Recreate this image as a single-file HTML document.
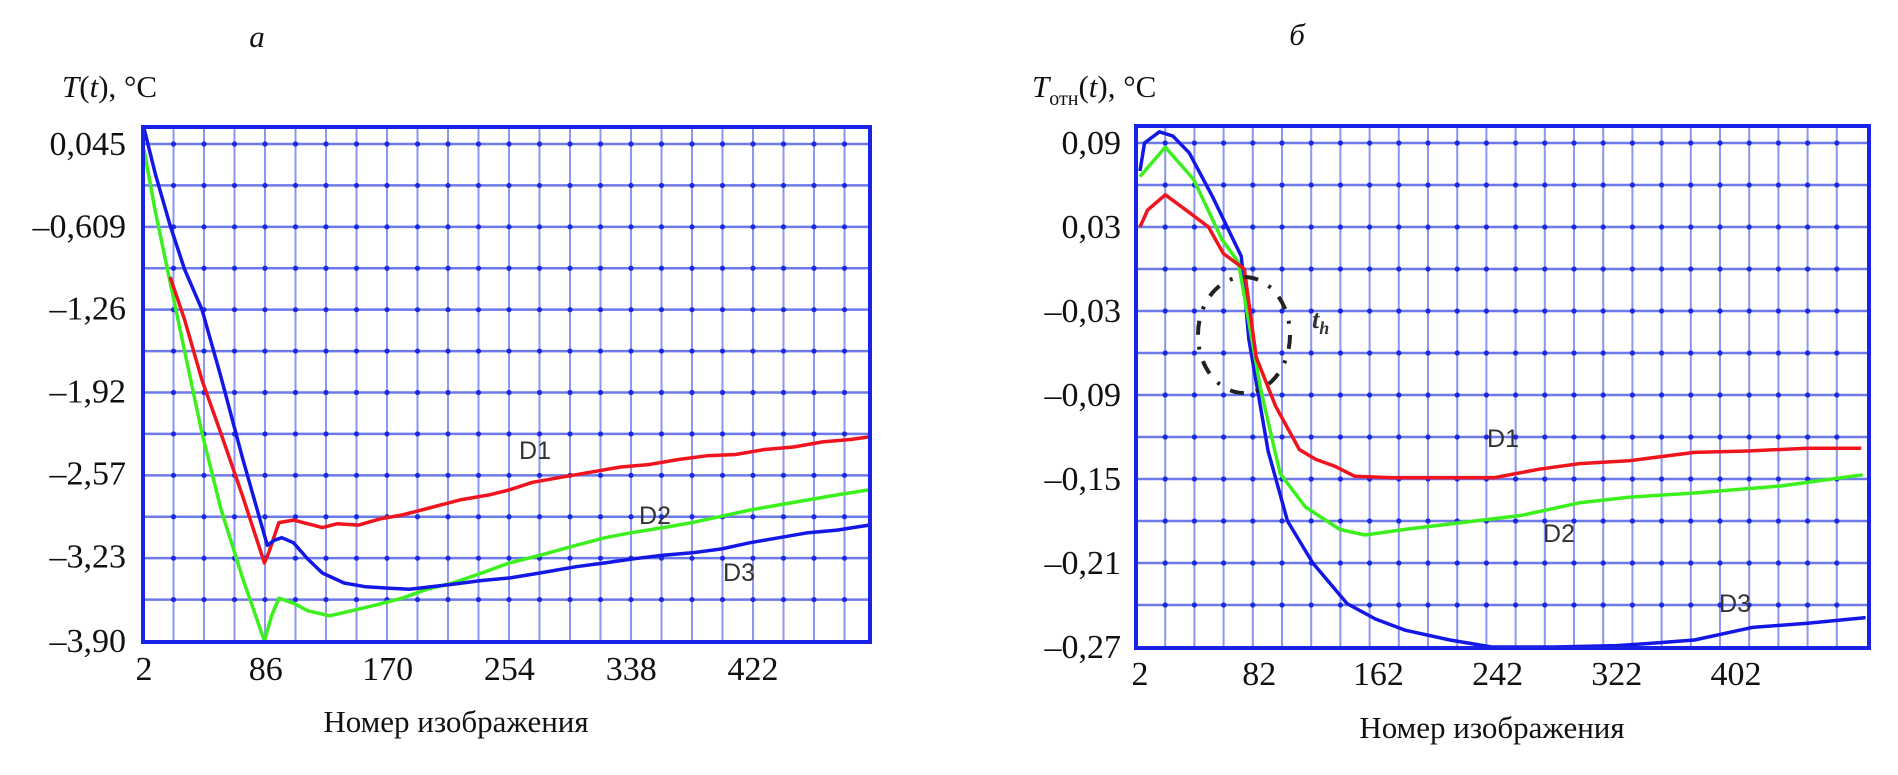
<!DOCTYPE html>
<html><head><meta charset="utf-8">
<style>
html,body{margin:0;padding:0;background:#fff;}
svg{display:block;}
.tick{font-family:"Liberation Serif",serif;font-size:34px;fill:#111;}
.ttl{font-family:"Liberation Serif",serif;font-size:31px;fill:#111;}
.dl{font-family:"Liberation Sans",sans-serif;font-size:25px;fill:#333;}
</style></head>
<body>
<svg id="fig" width="1898" height="775" viewBox="0 0 1898 775" xmlns="http://www.w3.org/2000/svg">
  <text x="257" y="47" class="ttl" font-style="italic" text-anchor="middle">а</text>
  <text x="1297" y="45" class="ttl" font-style="italic" text-anchor="middle">б</text>
  <text x="62" y="97" class="ttl"><tspan font-style="italic">T</tspan>(<tspan font-style="italic">t</tspan>), °C</text>
  <text x="1032" y="97" class="ttl"><tspan font-style="italic">T</tspan><tspan font-size="20" dy="8">отн</tspan><tspan dy="-8">(</tspan><tspan font-style="italic">t</tspan>), °C</text>
  <text x="456" y="732" class="ttl" text-anchor="middle">Номер изображения</text>
  <text x="1492" y="738" class="ttl" text-anchor="middle">Номер изображения</text>
  <g id="left"></g>
  <g id="right"></g>
  <ellipse cx="1244" cy="335" rx="46" ry="58" fill="none" stroke="#222" stroke-width="4" stroke-dasharray="14 12 3 12"/>
  <text x="1312" y="328" font-family="Liberation Serif,serif" font-size="26" font-style="italic" font-weight="bold" fill="#333">t<tspan font-size="18" dy="6">h</tspan></text>
</svg>
<script>
// ---- Left chart data ----
const leftYTicks = [0.045, -0.609, -1.26, -1.92, -2.57, -3.23, -3.90];
const leftYTickLabels = ["0,045", "–0,609", "–1,26", "–1,92", "–2,57", "–3,23", "–3,90"];
const leftXTicks = [2, 86, 170, 254, 338, 422];
const leftD1x = [20, 30, 42, 55, 70, 85, 88, 95, 105, 115, 125, 135, 150, 165, 180, 200, 220, 240, 254, 270, 290, 310, 330, 350, 370, 390, 410, 430, 450, 470, 490, 502];
const leftD1y = [-1.01, -1.35, -1.83, -2.25, -2.75, -3.28, -3.2, -2.96, -2.94, -2.97, -3.0, -2.97, -2.98, -2.93, -2.9, -2.84, -2.78, -2.74, -2.70, -2.64, -2.6, -2.56, -2.52, -2.5, -2.46, -2.43, -2.42, -2.38, -2.36, -2.32, -2.3, -2.28];
const leftD2x = [2, 10, 20, 30, 42, 55, 70, 85, 90, 95, 105, 115, 130, 145, 160, 180, 197, 215, 235, 254, 275, 300, 320, 338, 360, 380, 400, 420, 440, 460, 480, 502];
const leftD2y = [0.0, -0.5, -1.05, -1.6, -2.25, -2.85, -3.4, -3.9, -3.7, -3.56, -3.6, -3.66, -3.7, -3.66, -3.62, -3.56, -3.49, -3.44, -3.36, -3.28, -3.22, -3.14, -3.08, -3.04, -3.0, -2.96, -2.91, -2.86, -2.82, -2.78, -2.74, -2.70];
const leftD3x = [2, 10, 20, 30, 42, 55, 70, 87, 92, 97, 105, 115, 125, 140, 155, 170, 185, 200, 215, 235, 254, 275, 300, 320, 338, 360, 380, 400, 420, 440, 460, 480, 502];
const leftD3y = [0.17, -0.2, -0.6, -0.95, -1.27, -1.8, -2.45, -3.14, -3.1, -3.08, -3.12, -3.25, -3.36, -3.44, -3.47, -3.48, -3.49, -3.47, -3.45, -3.42, -3.40, -3.36, -3.31, -3.28, -3.25, -3.22, -3.2, -3.17, -3.12, -3.08, -3.04, -3.02, -2.98];
// ---- Right chart data ----
const rightYTicks = [0.09, 0.03, -0.03, -0.09, -0.15, -0.21, -0.27];
const rightYTickLabels = ["0,09", "0,03", "–0,03", "–0,09", "–0,15", "–0,21", "–0,27"];
const rightXTicks = [2, 82, 162, 242, 322, 402];
const rightD1x = [2, 7, 19, 33, 48, 58, 72, 80, 93, 109, 120, 133, 146, 170, 200, 240, 270, 297, 330, 374, 410, 450, 486];
const rightD1y = [0.03, 0.042, 0.053, 0.042, 0.03, 0.011, 0.0, -0.063, -0.098, -0.129, -0.136, -0.141, -0.148, -0.149, -0.149, -0.149, -0.143, -0.139, -0.137, -0.131, -0.13, -0.128, -0.128];
const rightD2x = [2, 19, 38, 57, 68, 83, 96, 113, 136, 153, 180, 219, 258, 297, 330, 374, 432, 487];
const rightD2y = [0.066, 0.087, 0.064, 0.021, 0.005, -0.086, -0.146, -0.17, -0.186, -0.19, -0.186, -0.181, -0.176, -0.167, -0.163, -0.16, -0.155, -0.147];
const rightD3x = [2, 5, 15, 24, 35, 51, 70, 75, 88, 101, 118, 141, 160, 180, 210, 238, 280, 322, 350, 374, 413, 450, 489];
const rightD3y = [0.07, 0.09, 0.098, 0.095, 0.083, 0.051, 0.009, -0.05, -0.13, -0.18, -0.21, -0.239, -0.25, -0.258, -0.265, -0.27, -0.27, -0.269, -0.267, -0.265, -0.256, -0.253, -0.249];

const NS = "http://www.w3.org/2000/svg";
function mk(parent, tag, attrs) {
  const e = document.createElementNS(NS, tag);
  for (const k in attrs) e.setAttribute(k, attrs[k]);
  parent.appendChild(e);
  return e;
}
function chart(g, cfg) {
  const {L, R, T, B, y0, yv0, yv1, yB, x0, xv0, xpu, vSpacing} = cfg;
  const sx = v => x0 + (v - xv0) * xpu;
  const sy = v => y0 + (yv0 - v) / (yv0 - yv1) * (yB - y0);
  const bg = mk(g, "rect", {x: L, y: T, width: R - L, height: B - T, fill: "#fff"});
  
  
  for (let x = L + vSpacing; x < R - 3; x += vSpacing) {
    const l = mk(g, "line", {x1: x, y1: T, x2: x, y2: B, stroke: "#8e96f2", "stroke-width": 2});
    
    
  }
  const step = (yB - y0) / (cfg.yTicks.length - 1) / 2;
  const hy = [];
  for (let y = y0; y < B - 2; y += step) hy.push(y);
  hy.forEach(y => {
    const l = mk(g, "line", {x1: L, y1: y, x2: R, y2: y, stroke: "#4a58e8", "stroke-width": 2.5, opacity: 0.8});
    
    
    for (let x = L + vSpacing; x < R - 3; x += vSpacing) {
      const d = mk(g, "circle", {cx: x, cy: y, r: 2.6, fill: "#1a2ae0"});
      
      
    }
  });
  cfg.series.forEach(s => {
    let d = "";
    s.x.forEach((v, i) => { d += (i ? "L" : "M") + sx(v).toFixed(1) + "," + sy(s.y[i]).toFixed(1); });
    const p = mk(g, "path", {d: d, fill: "none", stroke: s.color, "stroke-width": 3.5, "stroke-linejoin": "round"});
    
    
  });
  const fr = mk(g, "rect", {x: L, y: T, width: R - L, height: B - T, fill: "none", stroke: "#1a22e8", "stroke-width": 4});
  
  
  cfg.yTicks.forEach((v, i) => {
    const t = mk(g, "text", {x: cfg.yLabelX, y: sy(v) + 11, class: "tick", "text-anchor": "end"});
    t.textContent = cfg.yLabels[i];
    
    
  });
  cfg.xTicks.forEach(v => {
    const t = mk(g, "text", {x: sx(v), y: cfg.xLabelY, class: "tick", "text-anchor": "middle"});
    t.textContent = String(v);
    
    
  });
  cfg.labels.forEach(lb => {
    const t = mk(g, "text", {x: lb[1], y: lb[2], class: "dl", "text-anchor": "middle"});
    t.textContent = lb[0];
    
    
  });
}
chart(document.getElementById("left"), {
  L: 143, R: 870, T: 127, B: 642, y0: 144, yB: 641, yv0: 0.045, yv1: -3.90,
  x0: 144, xv0: 2, xpu: 1.45, vSpacing: 30.5,
  yTicks: leftYTicks, yLabels: leftYTickLabels, xTicks: leftXTicks,
  yLabelX: 126, xLabelY: 680,
  series: [
    {x: leftD2x, y: leftD2y, color: "#3cf01e", name: "left-series-d2"},
    {x: leftD1x, y: leftD1y, color: "#f0141e", name: "left-series-d1"},
    {x: leftD3x, y: leftD3y, color: "#1418e6", name: "left-series-d3"}
  ],
  labels: [["D1", 535, 459], ["D2", 655, 524], ["D3", 739, 581]]
});
chart(document.getElementById("right"), {
  L: 1136, R: 1869, T: 126, B: 648, y0: 143, yB: 647, yv0: 0.09, yv1: -0.27,
  x0: 1140, xv0: 2, xpu: 1.49, vSpacing: 29.2,
  yTicks: rightYTicks, yLabels: rightYTickLabels, xTicks: rightXTicks,
  yLabelX: 1121, xLabelY: 685,
  series: [
    {x: rightD3x, y: rightD3y, color: "#1418e6", name: "right-series-d3"},
    {x: rightD2x, y: rightD2y, color: "#3cf01e", name: "right-series-d2"},
    {x: rightD1x, y: rightD1y, color: "#f0141e", name: "right-series-d1"}
  ],
  labels: [["D1", 1503, 447], ["D2", 1559, 542], ["D3", 1735, 612]]
});
</script>
</body></html>
